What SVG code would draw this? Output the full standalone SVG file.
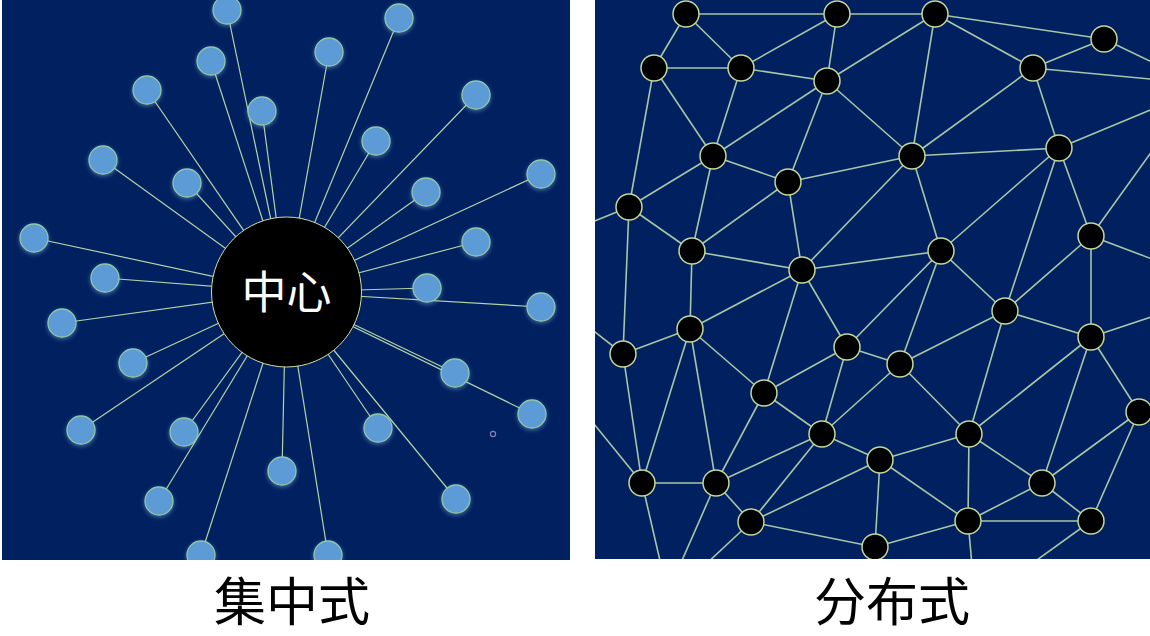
<svg xmlns="http://www.w3.org/2000/svg" width="1150" height="636" viewBox="0 0 1150 636">
<style>
.bg{fill:#002060}
.le{stroke:#b3d2a6;stroke-width:1.2;fill:none}
.re{stroke:#a6c6a6;stroke-width:1.6;fill:none}
.ln{fill:#5b9bd5;stroke:#8fc7a8;stroke-width:1.3;filter:url(#glow)}
.rn{fill:#000;stroke:#c3d79a;stroke-width:1.5}
.hub{fill:#000;stroke:#cfe0a0;stroke-width:1}
.hubt{fill:#fff;font-family:"Noto Sans CJK SC","Noto Sans",sans-serif;font-size:45px;text-anchor:middle}
.cap{fill:#000;font-family:"Noto Sans CJK SC","Noto Sans",sans-serif;font-size:52px;text-anchor:middle}
</style>
<defs>
<clipPath id="cl"><rect x="2" y="0" width="568" height="560"/></clipPath>
<clipPath id="cr"><rect x="595" y="0" width="555" height="559"/></clipPath>
<filter id="glow" x="-50%" y="-50%" width="200%" height="200%">
<feDropShadow dx="0" dy="1.5" stdDeviation="2" flood-color="#9fd0e8" flood-opacity="0.45"/>
</filter>
</defs>
<rect width="1150" height="636" fill="#fff"/>
<g id="left-panel" clip-path="url(#cl)">
<rect class="bg" x="2" y="0" width="568" height="560"/>
<g id="left-connectors">
<line class="le" x1="286" y1="292" x2="227" y2="10"/>
<line class="le" x1="286" y1="292" x2="211" y2="61"/>
<line class="le" x1="286" y1="292" x2="147" y2="90"/>
<line class="le" x1="286" y1="292" x2="262" y2="111"/>
<line class="le" x1="286" y1="292" x2="329" y2="52"/>
<line class="le" x1="286" y1="292" x2="399" y2="18"/>
<line class="le" x1="286" y1="292" x2="376" y2="141"/>
<line class="le" x1="286" y1="292" x2="476" y2="95"/>
<line class="le" x1="286" y1="292" x2="426" y2="192"/>
<line class="le" x1="286" y1="292" x2="541" y2="174"/>
<line class="le" x1="286" y1="292" x2="476" y2="242"/>
<line class="le" x1="286" y1="292" x2="427" y2="288"/>
<line class="le" x1="286" y1="292" x2="541" y2="307"/>
<line class="le" x1="286" y1="292" x2="455" y2="373"/>
<line class="le" x1="286" y1="294" x2="532" y2="414"/>
<line class="le" x1="286" y1="292" x2="378" y2="428"/>
<line class="le" x1="286" y1="292" x2="456" y2="499"/>
<line class="le" x1="286" y1="292" x2="282" y2="471"/>
<line class="le" x1="286" y1="292" x2="328" y2="555"/>
<line class="le" x1="286" y1="292" x2="201" y2="555"/>
<line class="le" x1="286" y1="292" x2="159" y2="501"/>
<line class="le" x1="286" y1="292" x2="184" y2="432"/>
<line class="le" x1="286" y1="292" x2="81" y2="430"/>
<line class="le" x1="286" y1="292" x2="133" y2="363"/>
<line class="le" x1="286" y1="292" x2="62" y2="323"/>
<line class="le" x1="286" y1="292" x2="105" y2="278"/>
<line class="le" x1="286" y1="292" x2="34" y2="238"/>
<line class="le" x1="286" y1="292" x2="103" y2="160"/>
<line class="le" x1="286" y1="292" x2="187" y2="183"/>
</g>
<g id="ln1"><circle class="ln" cx="227" cy="10" r="14"/></g>
<g id="ln2"><circle class="ln" cx="211" cy="61" r="14"/></g>
<g id="ln3"><circle class="ln" cx="147" cy="90" r="14"/></g>
<g id="ln4"><circle class="ln" cx="262" cy="111" r="14"/></g>
<g id="ln5"><circle class="ln" cx="329" cy="52" r="14"/></g>
<g id="ln6"><circle class="ln" cx="399" cy="18" r="14"/></g>
<g id="ln7"><circle class="ln" cx="376" cy="141" r="14"/></g>
<g id="ln8"><circle class="ln" cx="476" cy="95" r="14"/></g>
<g id="ln9"><circle class="ln" cx="426" cy="192" r="14"/></g>
<g id="ln10"><circle class="ln" cx="541" cy="174" r="14"/></g>
<g id="ln11"><circle class="ln" cx="476" cy="242" r="14"/></g>
<g id="ln12"><circle class="ln" cx="427" cy="288" r="14"/></g>
<g id="ln13"><circle class="ln" cx="541" cy="307" r="14"/></g>
<g id="ln14"><circle class="ln" cx="455" cy="373" r="14"/></g>
<g id="ln15"><circle class="ln" cx="532" cy="414" r="14"/></g>
<g id="ln16"><circle class="ln" cx="378" cy="428" r="14"/></g>
<g id="ln17"><circle class="ln" cx="456" cy="499" r="14"/></g>
<g id="ln18"><circle class="ln" cx="282" cy="471" r="14"/></g>
<g id="ln19"><circle class="ln" cx="328" cy="555" r="14"/></g>
<g id="ln20"><circle class="ln" cx="201" cy="555" r="14"/></g>
<g id="ln21"><circle class="ln" cx="159" cy="501" r="14"/></g>
<g id="ln22"><circle class="ln" cx="184" cy="432" r="14"/></g>
<g id="ln23"><circle class="ln" cx="81" cy="430" r="14"/></g>
<g id="ln24"><circle class="ln" cx="133" cy="363" r="14"/></g>
<g id="ln25"><circle class="ln" cx="62" cy="323" r="14"/></g>
<g id="ln26"><circle class="ln" cx="105" cy="278" r="14"/></g>
<g id="ln27"><circle class="ln" cx="34" cy="238" r="14"/></g>
<g id="ln28"><circle class="ln" cx="103" cy="160" r="14"/></g>
<g id="ln29"><circle class="ln" cx="187" cy="183" r="14"/></g>
<g id="hub"><circle class="hub" cx="286.5" cy="292" r="75"/><text class="hubt" x="286.5" y="309">中心</text></g>
<circle cx="493" cy="434" r="2.6" fill="none" stroke="#8a80b4" stroke-width="1.2"/>
</g>
<g id="right-panel" clip-path="url(#cr)">
<rect class="bg" x="595" y="0" width="555" height="559"/>
<g id="right-connectors">
<line class="re" x1="686" y1="14" x2="837" y2="14"/>
<line class="re" x1="837" y1="14" x2="935" y2="14"/>
<line class="re" x1="686" y1="14" x2="654" y2="68"/>
<line class="re" x1="686" y1="14" x2="741" y2="68"/>
<line class="re" x1="654" y1="68" x2="741" y2="68"/>
<line class="re" x1="741" y1="68" x2="837" y2="14"/>
<line class="re" x1="741" y1="68" x2="827" y2="81"/>
<line class="re" x1="837" y1="14" x2="827" y2="81"/>
<line class="re" x1="827" y1="81" x2="935" y2="14"/>
<line class="re" x1="827" y1="81" x2="912" y2="156"/>
<line class="re" x1="654" y1="68" x2="629" y2="207"/>
<line class="re" x1="654" y1="68" x2="713" y2="156"/>
<line class="re" x1="741" y1="68" x2="713" y2="156"/>
<line class="re" x1="713" y1="156" x2="827" y2="81"/>
<line class="re" x1="827" y1="81" x2="788" y2="182"/>
<line class="re" x1="713" y1="156" x2="788" y2="182"/>
<line class="re" x1="788" y1="182" x2="912" y2="156"/>
<line class="re" x1="713" y1="156" x2="629" y2="207"/>
<line class="re" x1="629" y1="207" x2="590" y2="223"/>
<line class="re" x1="629" y1="207" x2="623" y2="354"/>
<line class="re" x1="629" y1="207" x2="692" y2="251"/>
<line class="re" x1="713" y1="156" x2="692" y2="251"/>
<line class="re" x1="788" y1="182" x2="692" y2="251"/>
<line class="re" x1="692" y1="251" x2="802" y2="270"/>
<line class="re" x1="788" y1="182" x2="802" y2="270"/>
<line class="re" x1="692" y1="251" x2="690" y2="329"/>
<line class="re" x1="912" y1="156" x2="802" y2="270"/>
<line class="re" x1="802" y1="270" x2="941" y2="251"/>
<line class="re" x1="935" y1="14" x2="1104" y2="39"/>
<line class="re" x1="935" y1="14" x2="1033" y2="68"/>
<line class="re" x1="935" y1="14" x2="912" y2="156"/>
<line class="re" x1="1033" y1="68" x2="1104" y2="39"/>
<line class="re" x1="1104" y1="39" x2="1160" y2="66"/>
<line class="re" x1="1033" y1="68" x2="1160" y2="80"/>
<line class="re" x1="1033" y1="68" x2="1059" y2="148"/>
<line class="re" x1="1033" y1="68" x2="912" y2="156"/>
<line class="re" x1="912" y1="156" x2="1059" y2="148"/>
<line class="re" x1="912" y1="156" x2="941" y2="251"/>
<line class="re" x1="1059" y1="148" x2="1160" y2="106"/>
<line class="re" x1="1059" y1="148" x2="941" y2="251"/>
<line class="re" x1="1059" y1="148" x2="1091" y2="236"/>
<line class="re" x1="1059" y1="148" x2="1005" y2="311"/>
<line class="re" x1="1091" y1="236" x2="1160" y2="140"/>
<line class="re" x1="1091" y1="236" x2="1160" y2="262"/>
<line class="re" x1="1091" y1="236" x2="1091" y2="337"/>
<line class="re" x1="1091" y1="236" x2="1005" y2="311"/>
<line class="re" x1="802" y1="270" x2="690" y2="329"/>
<line class="re" x1="802" y1="270" x2="764" y2="393"/>
<line class="re" x1="802" y1="270" x2="847" y2="347"/>
<line class="re" x1="847" y1="347" x2="900" y2="364"/>
<line class="re" x1="847" y1="347" x2="941" y2="251"/>
<line class="re" x1="623" y1="354" x2="690" y2="329"/>
<line class="re" x1="623" y1="354" x2="590" y2="328"/>
<line class="re" x1="690" y1="329" x2="764" y2="393"/>
<line class="re" x1="690" y1="329" x2="642" y2="483"/>
<line class="re" x1="690" y1="329" x2="716" y2="483"/>
<line class="re" x1="623" y1="354" x2="642" y2="483"/>
<line class="re" x1="642" y1="483" x2="590" y2="419"/>
<line class="re" x1="764" y1="393" x2="847" y2="347"/>
<line class="re" x1="764" y1="393" x2="822" y2="434"/>
<line class="re" x1="764" y1="393" x2="716" y2="483"/>
<line class="re" x1="847" y1="347" x2="822" y2="434"/>
<line class="re" x1="822" y1="434" x2="900" y2="364"/>
<line class="re" x1="822" y1="434" x2="880" y2="460"/>
<line class="re" x1="822" y1="434" x2="716" y2="483"/>
<line class="re" x1="822" y1="434" x2="751" y2="522"/>
<line class="re" x1="642" y1="483" x2="716" y2="483"/>
<line class="re" x1="716" y1="483" x2="751" y2="522"/>
<line class="re" x1="751" y1="522" x2="880" y2="460"/>
<line class="re" x1="751" y1="522" x2="875" y2="547"/>
<line class="re" x1="880" y1="460" x2="875" y2="547"/>
<line class="re" x1="642" y1="483" x2="661" y2="565"/>
<line class="re" x1="716" y1="483" x2="680" y2="565"/>
<line class="re" x1="751" y1="522" x2="705" y2="565"/>
<line class="re" x1="941" y1="251" x2="1005" y2="311"/>
<line class="re" x1="900" y1="364" x2="1005" y2="311"/>
<line class="re" x1="900" y1="364" x2="941" y2="251"/>
<line class="re" x1="1005" y1="311" x2="1091" y2="337"/>
<line class="re" x1="1091" y1="337" x2="1160" y2="314"/>
<line class="re" x1="900" y1="364" x2="969" y2="434"/>
<line class="re" x1="1005" y1="311" x2="969" y2="434"/>
<line class="re" x1="1091" y1="337" x2="969" y2="434"/>
<line class="re" x1="1091" y1="337" x2="1042" y2="483"/>
<line class="re" x1="1091" y1="337" x2="1139" y2="412"/>
<line class="re" x1="1139" y1="412" x2="1042" y2="483"/>
<line class="re" x1="1139" y1="412" x2="1091" y2="521"/>
<line class="re" x1="969" y1="434" x2="880" y2="460"/>
<line class="re" x1="969" y1="434" x2="1042" y2="483"/>
<line class="re" x1="969" y1="434" x2="968" y2="521"/>
<line class="re" x1="880" y1="460" x2="968" y2="521"/>
<line class="re" x1="1042" y1="483" x2="968" y2="521"/>
<line class="re" x1="1042" y1="483" x2="1091" y2="521"/>
<line class="re" x1="968" y1="521" x2="1091" y2="521"/>
<line class="re" x1="875" y1="547" x2="968" y2="521"/>
<line class="re" x1="968" y1="521" x2="972" y2="565"/>
<line class="re" x1="1091" y1="521" x2="1030" y2="565"/>
</g>
<g id="rA"><circle class="rn" cx="686" cy="14" r="13"/></g>
<g id="rB"><circle class="rn" cx="837" cy="14" r="13"/></g>
<g id="rC"><circle class="rn" cx="935" cy="14" r="13"/></g>
<g id="rD"><circle class="rn" cx="1104" cy="39" r="13"/></g>
<g id="rE"><circle class="rn" cx="654" cy="68" r="13"/></g>
<g id="rF"><circle class="rn" cx="741" cy="68" r="13"/></g>
<g id="rG"><circle class="rn" cx="827" cy="81" r="13"/></g>
<g id="rH"><circle class="rn" cx="1033" cy="68" r="13"/></g>
<g id="rI"><circle class="rn" cx="713" cy="156" r="13"/></g>
<g id="rJ"><circle class="rn" cx="788" cy="182" r="13"/></g>
<g id="rK"><circle class="rn" cx="912" cy="156" r="13"/></g>
<g id="rL"><circle class="rn" cx="1059" cy="148" r="13"/></g>
<g id="rM"><circle class="rn" cx="629" cy="207" r="13"/></g>
<g id="rN"><circle class="rn" cx="692" cy="251" r="13"/></g>
<g id="rO"><circle class="rn" cx="802" cy="270" r="13"/></g>
<g id="rP"><circle class="rn" cx="941" cy="251" r="13"/></g>
<g id="rQ"><circle class="rn" cx="1091" cy="236" r="13"/></g>
<g id="rR"><circle class="rn" cx="690" cy="329" r="13"/></g>
<g id="rS"><circle class="rn" cx="623" cy="354" r="13"/></g>
<g id="rT"><circle class="rn" cx="847" cy="347" r="13"/></g>
<g id="rU"><circle class="rn" cx="900" cy="364" r="13"/></g>
<g id="rV"><circle class="rn" cx="1005" cy="311" r="13"/></g>
<g id="rW"><circle class="rn" cx="1091" cy="337" r="13"/></g>
<g id="rX"><circle class="rn" cx="764" cy="393" r="13"/></g>
<g id="rY"><circle class="rn" cx="822" cy="434" r="13"/></g>
<g id="rZ"><circle class="rn" cx="969" cy="434" r="13"/></g>
<g id="rAA"><circle class="rn" cx="1139" cy="412" r="13"/></g>
<g id="rAB"><circle class="rn" cx="880" cy="460" r="13"/></g>
<g id="rAC"><circle class="rn" cx="642" cy="483" r="13"/></g>
<g id="rAD"><circle class="rn" cx="716" cy="483" r="13"/></g>
<g id="rAE"><circle class="rn" cx="1042" cy="483" r="13"/></g>
<g id="rAF"><circle class="rn" cx="751" cy="522" r="13"/></g>
<g id="rAG"><circle class="rn" cx="968" cy="521" r="13"/></g>
<g id="rAH"><circle class="rn" cx="1091" cy="521" r="13"/></g>
<g id="rAI"><circle class="rn" cx="875" cy="547" r="13"/></g>
</g>
<g id="captions">
<text class="cap" x="292" y="621">集中式</text>
<text class="cap" x="892" y="621">分布式</text>
</g>
</svg>
